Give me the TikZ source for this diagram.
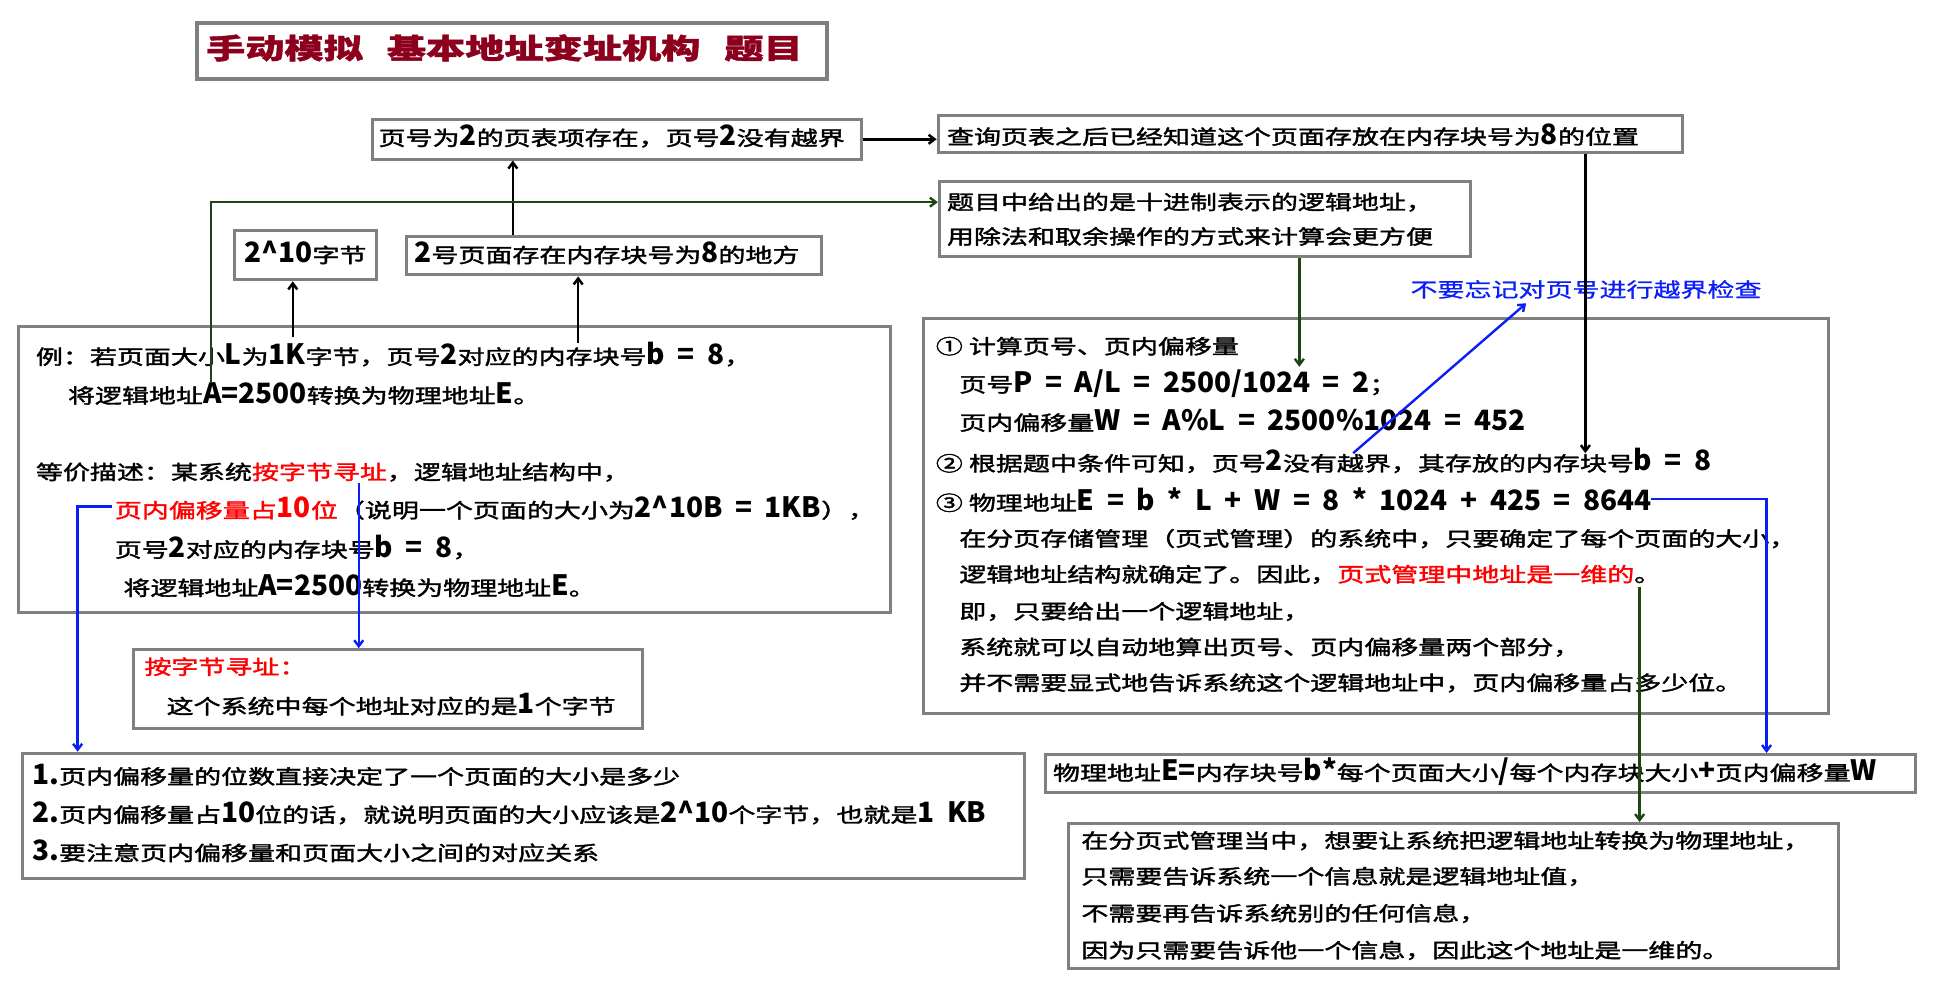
\documentclass[tikz,border=0pt]{standalone}
\usepackage{fontspec}
\usetikzlibrary{arrows.meta,fit}
\setmainfont{Noto Sans CJK SC}
\newfontfamily\cjkfont[FakeStretch=1.35,FakeBold=1.8]{Noto Sans CJK SC}
\newfontfamily\latfont{Noto Sans CJK SC}
\newfontfamily\notefont[FakeStretch=1.35,FakeBold=0.8]{Noto Sans CJK SC}
\newfontfamily\ttlfont[FakeStretch=1.4,FakeBold=1.5]{Noto Sans CJK SC}
\newcommand\B[1]{{\latfont\bfseries\fontsize{28}{32}\selectfont\spaceskip=0.45em\relax #1}}
\newcommand\R[1]{\textcolor{myred}{#1}}
\definecolor{boxgray}{RGB}{128,128,128}
\definecolor{dgreen}{RGB}{30,70,20}
\definecolor{myblue}{RGB}{10,30,250}
\definecolor{myred}{RGB}{255,0,0}
\definecolor{ttlred}{RGB}{140,0,30}
\tikzset{
  box/.style={draw=boxgray, line width=3pt, inner sep=0pt},
  txt/.style={anchor=base west, inner sep=0pt, font=\cjkfont\fontsize{20}{24}\selectfont},
  arr/.style={line width=2.5pt, black, -{Straight Barb[length=6pt,width=9pt]}},
  garr/.style={line width=2.4pt, dgreen, -{Straight Barb[length=6pt,width=9pt]}},
  barr/.style={line width=2.4pt, myblue, -{Straight Barb[length=6pt,width=9pt]}},
}
\begin{document}
\begin{tikzpicture}[x=1.2328pt,y=-1.2328pt]
\useasboundingbox[fill=white] (0,0) rectangle (1568,799);
% boxes
\node[box, line width=4.5pt, fit={(160,18.5) (671,64)}] (title) {};
\node[box, fit={(302,97) (699,129)}] (A) {};
\node[box, fit={(761,94) (1365,124)}] (B) {};
\node[box, fit={(762,147) (1193,208)}] (C) {};
\node[box, fit={(190,187) (305,227)}] (D) {};
\node[box, fit={(330,192) (666,223)}] (E) {};
\node[box, fit={(15,265) (722,497)}] (F) {};
\node[box, fit={(749,258) (1483,579)}] (G) {};
\node[box, fit={(108,527) (521,591)}] (H) {};
\node[box, fit={(18,611) (831,713)}] (I) {};
\node[box, fit={(848,612) (1554,643)}] (J) {};
\node[box, fit={(867,668) (1491,786)}] (K) {};
% title
\node[anchor=base west, inner sep=0pt, text=ttlred, font=\ttlfont\bfseries\fontsize{28}{32}\selectfont] (ttl) at (167,47.6) {手动模拟\hspace{24pt}基本地址变址机构\hspace{24pt}题目};
% texts
\node[txt] (tA) at (307,118) {页号为\B{2}的页表项存在，页号\B{2}没有越界};
\node[txt] (tB) at (768,117) {查询页表之后已经知道这个页面存放在内存块号为\B{8}的位置};
\node[txt] (tC1) at (768,170) {题目中给出的是十进制表示的逻辑地址，};
\node[txt] (tC2) at (768,198) {用除法和取余操作的方式来计算会更方便};
\node[txt] (tD) at (198,213) {\B{2\textasciicircum 10}字节};
\node[txt] (tE) at (336,213) {\B{2}号页面存在内存块号为\B{8}的地方};
\node[txt] (f1) at (29,295.5) {例：若页面大小\B{L}为\B{1K}字节，页号\B{2}对应的内存块号\B{b = 8}，};
\node[txt] (f2) at (55,327) {将逻辑地址\B{A=2500}转换为物理地址\B{E}。};
\node[txt] (f3) at (29,389) {等价描述：某系统\R{按字节寻址}，逻辑地址结构中，};
\node[txt] (f4) at (93,420) {\R{页内偏移量占\B{10}位}（说明一个页面的大小为\B{2\textasciicircum 10B = 1KB}），};
\node[txt] (f5) at (93,452) {页号\B{2}对应的内存块号\B{b = 8}，};
\node[txt] (f6) at (100,483) {将逻辑地址\B{A=2500}转换为物理地址\B{E}。};
\node[txt] (g1) at (759,287) {① 计算页号、页内偏移量};
\node[txt] (g2) at (778,318) {页号\B{P = A/L = 2500/1024 = 2}；};
\node[txt] (g3) at (778,349) {页内偏移量\B{W = A\%L = 2500\%1024 = 452}};
\node[txt] (g4) at (759,382) {② 根据题中条件可知，页号\B{2}没有越界，其存放的内存块号\B{b = 8}};
\node[txt] (g5) at (759,414) {③ 物理地址\B{E = b * L + W = 8 * 1024 + 425 = 8644}};
\node[txt] (g6) at (778,443) {在分页存储管理（页式管理）的系统中，只要确定了每个页面的大小，};
\node[txt] (g7) at (778,472) {逻辑地址结构就确定了。因此，\R{页式管理中地址是一维的}。};
\node[txt] (g8) at (778,502) {即，只要给出一个逻辑地址，};
\node[txt] (g9) at (778,531) {系统就可以自动地算出页号、页内偏移量两个部分，};
\node[txt] (g10) at (778,560) {并不需要显式地告诉系统这个逻辑地址中，页内偏移量占多少位。};
\node[txt] (h1) at (117,547) {\R{按字节寻址：}};
\node[txt] (h2) at (135,579) {这个系统中每个地址对应的是\B{1}个字节};
\node[txt] (i1) at (26,636) {\B{1.}页内偏移量的位数直接决定了一个页面的大小是多少};
\node[txt] (i2) at (26,667) {\B{2.}页内偏移量占\B{10}位的话，就说明页面的大小应该是\B{2\textasciicircum 10}个字节，也就是\B{1 KB}};
\node[txt] (i3) at (26,698) {\B{3.}要注意页内偏移量和页面大小之间的对应关系};
\node[txt] (tJ) at (854,633) {物理地址\B{E=}内存块号\B{b*}每个页面大小\B{/}每个内存块大小\B{+}页内偏移量\B{W}};
\node[txt] (k1) at (877,688) {在分页式管理当中，想要让系统把逻辑地址转换为物理地址，};
\node[txt] (k2) at (877,717) {只需要告诉系统一个信息就是逻辑地址值，};
\node[txt] (k3) at (877,747) {不需要再告诉系统别的任何信息，};
\node[txt] (k4) at (877,777) {因为只需要告诉他一个信息，因此这个地址是一维的。};
\node[txt, text=myblue, font=\notefont\fontsize{20}{24}\selectfont] (note) at (1144,241) {不要忘记对页号进行越界检查};
% connectors
\coordinate (pF1) at (237.5,273);
\draw[arr] (pF1) -- (pF1 |- D.south);
\coordinate (pF2) at (469,278);
\draw[arr] (pF2) -- (pF2 |- E.south);
\coordinate (xEA) at (416,0);
\draw[arr] (E.north -| xEA) -- (A.south -| xEA);
\draw[arr] (A.east) -- (A.east -| B.west);
\coordinate (pG) at (171,311);
\coordinate (yC) at (0,164);
\draw[garr] (pG) |- (C.west |- yC);
\coordinate (gEnd) at (1054,297.5);
\draw[garr] (C.south -| gEnd) -- (gEnd);
\coordinate (bEnd) at (1286,367.6);
\draw[arr] (B.south -| bEnd) -- (bEnd);
\coordinate (yueS) at (1097.6,367.6);
\coordinate (noteIn) at (1238,246);
\draw[barr] (yueS) -- (noteIn);
\coordinate (e8644) at (1339,405);
\coordinate (xJ) at (1433,0);
\draw[barr] (e8644) -| (J.north -| xJ);
\coordinate (ywS) at (1330,476);
\draw[garr] (ywS) -- (ywS |- K.north);
\coordinate (bzS) at (291,392);
\draw[barr] (bzS) -- (bzS |- H.north);
\coordinate (pyS) at (91,411);
\coordinate (xI) at (63,0);
\draw[barr] (pyS) -| (I.north -| xI);
\end{tikzpicture}
\end{document}
